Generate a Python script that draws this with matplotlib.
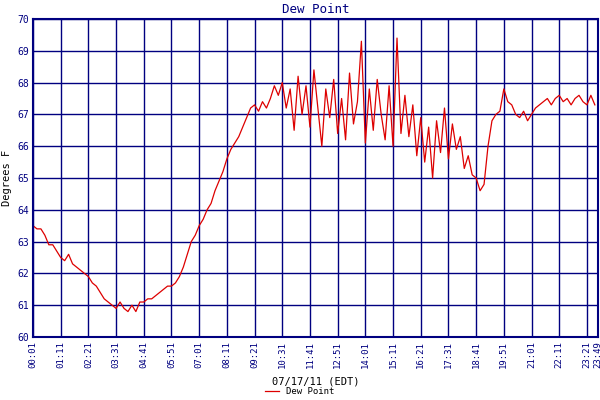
import matplotlib
matplotlib.use("Agg")
import matplotlib.pyplot as plt
import numpy as np

title = "Dew Point"
ylabel = "Degrees F"
xlabel = "07/17/11 (EDT)"
tick_labels = ["00:01","01:11","02:21","03:31","04:41","05:51","07:01","08:11","09:21","10:31",
               "11:41","12:51","14:01","15:11","16:21","17:31","18:41","19:51","21:01","22:11","23:21","23:49"]
tick_minutes = [1,71,141,211,281,351,421,491,561,631,701,771,841,911,981,1051,1121,1191,1261,1331,1401,1429]
values = [63.5,63.4,63.4,63.2,62.9,62.9,62.7,62.5,62.4,62.6,62.3,62.2,62.1,62.0,61.9,61.7,61.6,61.4,61.2,61.1,61.0,60.9,61.1,60.9,60.8,61.0,60.8,61.1,
          61.1,61.2,61.2,61.3,61.4,61.5,61.6,61.6,61.7,61.9,62.2,62.6,63.0,
          63.2,63.5,63.7,64.0,64.2,64.6,64.9,65.2,65.6,65.9,66.1,66.3,66.6,66.9,67.2,67.3,67.1,67.4,67.2,67.5,
          67.9,67.6,68.0,67.2,67.8,66.5,68.2,67.0,67.9,66.6,68.4,67.2,66.0,67.8,66.9,68.1,66.4,67.5,66.2,68.3,66.7,67.4,69.3,66.1,67.8,66.5,68.1,67.0,66.2,67.9,66.0,69.4,66.4,67.6,
          66.3,67.3,65.7,66.9,65.5,66.6,65.0,66.8,65.8,67.2,65.6,66.7,65.9,66.3,65.3,65.7,65.1,65.0,
          64.6,64.8,66.0,66.8,67.0,
          67.1,67.8,67.4,67.3,67.0,66.9,67.1,66.8,67.0,67.2,67.3,67.4,67.5,67.3,67.5,67.6,67.4,67.5,67.3,67.5,67.6,67.4,67.3,67.6,67.3]
minutes = [1 + 10*i for i in range(len(values))]

navy = "#000080"
fig = plt.figure(figsize=(6, 4), dpi=100)
ax = fig.add_axes([33/600, 63/400, 565/600, 318/400])
ax.plot(minutes, values, color="#dd0000", lw=0.9)
ax.set_xlim(1, 1429)
ax.set_ylim(60, 70)
ax.set_yticks(range(60, 71))
ax.set_xticks(tick_minutes)
ax.set_xticklabels(tick_labels, rotation=90, family="DejaVu Sans Mono", fontsize=6.5, color=navy)
for t in ax.get_yticklabels():
    t.set_family("DejaVu Sans Mono"); t.set_fontsize(7); t.set_color(navy)
ax.grid(True, color=navy, lw=1)
ax.tick_params(length=0, pad=3)
for s in ax.spines.values():
    s.set_color(navy); s.set_linewidth(1.5)
ax.set_title(title, family="DejaVu Sans Mono", fontsize=9, color=navy, pad=4)
ax.set_ylabel(ylabel, family="DejaVu Sans Mono", fontsize=7.5, color="black")
ax.set_xlabel(xlabel, family="DejaVu Sans Mono", fontsize=7.5, color="black", labelpad=6)
fig.legend(["Dew Point"], loc="lower center", bbox_to_anchor=(0.5, -0.01), frameon=False,
           prop={"family": "DejaVu Sans Mono", "size": 6.5}, handlelength=1.5)
fig.savefig("out.png", dpi=100)
